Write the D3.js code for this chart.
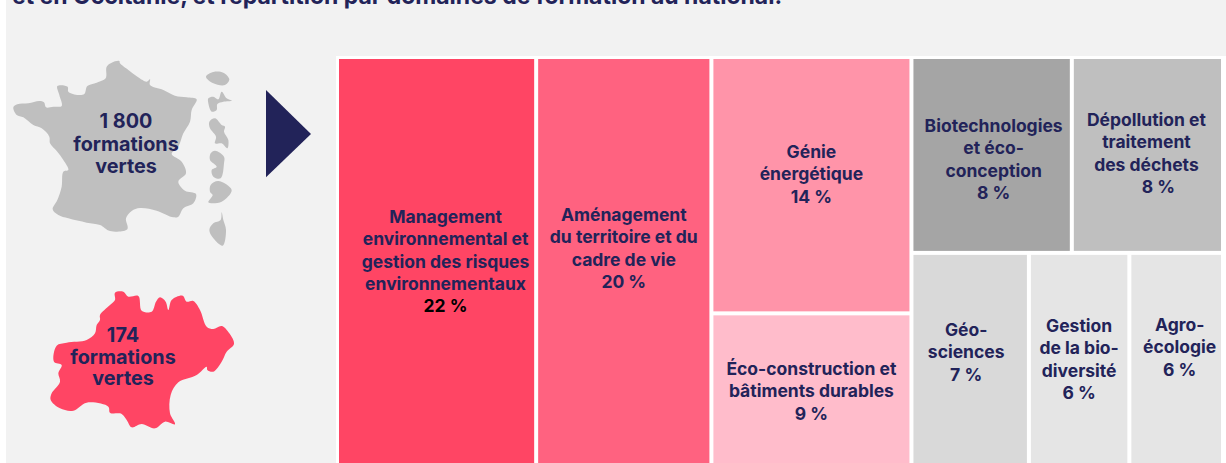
<!DOCTYPE html>
<html>
<head>
<meta charset="utf-8">
<script src="https://cdnjs.cloudflare.com/ajax/libs/d3/7.8.5/d3.min.js"></script>
<style>
  html, body { margin: 0; padding: 0; background: #fff; overflow: hidden; }
</style>
</head>
<body>
<script>
var width = 1226, height = 463;

// domains of training, in the order they are laid out
var categories = [
  ["Management", "environnemental et", "gestion des risques", "environnementaux"],
  ["Aménagement", "du territoire et du", "cadre de vie"],
  ["Génie", "énergétique"],
  ["Éco-construction et", "bâtiments durables"],
  ["Biotechnologies", "et éco-", "conception"],
  ["Dépollution et", "traitement", "des déchets"],
  ["Géo-", "sciences"],
  ["Gestion", "de la bio-", "diversité"],
  ["Agro-", "écologie"]
];
// printed percentages
var percents = ["22 %", "20 %", "14 %", "9 %", "8  %", "8 %", "7 %", "6 %", "6 %"];
// shares as the areas measure on the picture (the printed ones are rounded)
var shares = [22.5, 19.8, 14.2, 8.4, 8.7, 8.2, 6.9, 5.9, 5.5];
var colors = ["#ff4564", "#ff6280", "#ff94a9", "#ffbccb", "#a5a5a5", "#bfbfbf", "#d9d9d9", "#e5e5e5", "#e5e5e5"];
var percentColors = ["#000", "#222359", "#222359", "#222359", "#222359", "#222359", "#222359", "#222359", "#222359"];

// map totals
var franceLabel = ["1 800", "formations", "vertes"];
var occitanieLabel = ["174", "formations", "vertes"];
var title = "et en Occitanie, et répartition par domaines de formation au national.";

// map outlines (3x units)
var franceOutline = [[358,183],[335,188],[320,200],[317,235],[290,248],[262,258],[253,282],[235,285],[205,275],[203,260],[172,258],[178,285],[185,318],[160,320],[138,322],[132,307],[118,303],[85,310],[52,313],[40,322],[50,345],[70,352],[100,375],[125,385],[148,410],[150,430],[172,455],[190,480],[205,510],[190,515],[185,560],[172,600],[158,628],[175,645],[205,655],[260,668],[300,675],[330,693],[382,688],[378,655],[395,633],[420,624],[470,632],[520,652],[535,650],[550,625],[580,610],[588,582],[555,572],[535,545],[558,520],[545,485],[515,462],[535,440],[550,400],[570,365],[575,330],[590,298],[560,292],[525,287],[490,270],[450,255],[450,238],[440,245],[405,225],[385,210],[360,190]];
var islands = [
  [[618,230],[640,216],[670,218],[688,238],[675,255],[640,250]],
  [[625,295],[640,290],[655,298],[665,275],[680,295],[695,302],[670,305],[652,312],[650,330],[635,335],[625,310]],
  [[628,365],[645,355],[665,375],[675,380],[672,395],[685,420],[682,445],[665,430],[645,430],[648,410],[630,385]],
  [[632,460],[645,452],[672,470],[672,490],[662,535],[640,530],[635,510],[650,500],[630,480]],
  [[632,555],[655,543],[695,570],[665,605],[625,607],[638,585],[630,575]],
  [[665,637],[662,660],[640,670],[628,690],[640,715],[668,737],[678,690],[670,660]]
];
var occitanieOutline = [[345,878],[370,875],[385,890],[415,888],[425,932],[455,935],[468,905],[480,892],[497,905],[505,930],[515,900],[548,887],[560,905],[580,903],[600,930],[620,980],[640,987],[665,978],[688,1000],[702,1032],[680,1055],[665,1085],[640,1115],[622,1110],[620,1100],[590,1125],[535,1147],[512,1185],[510,1240],[525,1273],[495,1265],[465,1285],[425,1272],[395,1282],[380,1260],[365,1242],[330,1238],[325,1220],[260,1208],[220,1232],[180,1225],[152,1200],[155,1180],[180,1145],[175,1120],[185,1095],[162,1085],[170,1037],[200,1028],[260,1020],[285,1000],[290,975],[300,960],[300,945],[330,915],[345,900]];
var arrowShape = [[798,270],[933,402],[798,532]];

var svg = d3.select("body").append("svg")
  .attr("width", width)
  .attr("height", height)
  .style("display", "block");

// grey panel behind everything
svg.append("rect")
  .attr("x", 6).attr("y", 0)
  .attr("width", width - 6).attr("height", height)
  .attr("fill", "#f2f2f2");

svg.append("text")
  .attr("x", 12).attr("y", 4)
  .attr("font-family", "Inter, sans-serif")
  .attr("font-weight", 700)
  .attr("font-size", 23)
  .attr("fill", "#222359")
  .text(title);

// maps
var mapX = d3.scaleLinear().domain([0, 1020]).range([0, 340]);
var mapY = d3.scaleLinear().domain([0, 750]).range([0, 250]);
var outline = d3.line()
  .x(function(d) { return mapX(d[0]); })
  .y(function(d) { return mapY(d[1]); })
  .curve(d3.curveCatmullRomClosed.alpha(0.5));
var straight = d3.line()
  .x(function(d) { return mapX(d[0]); })
  .y(function(d) { return mapY(d[1]); })
  .curve(d3.curveLinearClosed);

svg.append("g").selectAll("path")
  .data([franceOutline].concat(islands))
  .enter().append("path")
  .attr("d", outline)
  .attr("fill", "#bfbfbf");

svg.append("path").datum(occitanieOutline).attr("d", outline).attr("fill", "#ff4564");
svg.append("path").datum(arrowShape).attr("d", straight).attr("fill", "#222359");

function mapLabel(lines, cx, top, gap) {
  svg.append("text")
    .attr("font-family", "Inter, sans-serif")
    .attr("font-weight", 700)
    .attr("font-size", 19.8)
    .attr("fill", "#222359")
    .attr("text-anchor", "middle")
    .selectAll("tspan")
    .data(lines)
    .enter().append("tspan")
    .attr("x", cx)
    .attr("y", function(d, i) { return top + i * gap; })
    .text(function(d) { return d; });
}
mapLabel(franceLabel, 126, 128, 22.5);
mapLabel(occitanieLabel, 123, 342, 21.7);

// treemap : columns, the last one split in two rows
function leaf(i) { return {id: i, value: shares[i]}; }
var tree = {children: [
  leaf(0),
  leaf(1),
  {children: [leaf(2), leaf(3)]},
  {children: [
    {children: [leaf(4), leaf(5)]},
    {children: [leaf(6), leaf(7), leaf(8)]}
  ]}
]};

var root = d3.hierarchy(tree).sum(function(d) { return d.value || 0; });

d3.treemap()
  .tile(d3.treemapSliceDice)
  .size([882, 404])
  .paddingInner(4)(root);

var plot = svg.append("g").attr("transform", "translate(339,59)");

// white frame around the treemap
plot.append("rect")
  .attr("x", -3).attr("y", -3)
  .attr("width", width - 339 + 3).attr("height", height - 56)
  .attr("fill", "#fff");

var cells = plot.selectAll("g.cell")
  .data(root.leaves())
  .enter().append("g")
  .attr("class", "cell");

cells.append("rect")
  .attr("x", function(d) { return d.x0; })
  .attr("y", function(d) { return d.y0; })
  .attr("width", function(d) { return d.x1 - d.x0; })
  .attr("height", function(d) { return d.y1 - d.y0; })
  .attr("fill", function(d) { return colors[d.data.id]; });

// y of the first baseline, by cell (labels are not centred the same way in each)
var labelTops = [223, 221, 158, 375, 132, 126, 336, 332, 331];
// x shift for labels that sit off the cell centre
var labelShift = [9, 0, 0, 0, 2, -1, -4, 0, 3.5];
// the percent of the "Dépollution" cell sits further right than its label
var percentShift = [0, 0, 0, 0, 0, 12, 0, 0, 0];
var lineGap = 22.3;

cells.append("text")
  .attr("text-anchor", "middle")
  .attr("font-family", "Inter, sans-serif")
  .attr("font-weight", 700)
  .attr("font-size", 17.5)
  .attr("fill", "#222359")
  .each(function(d) {
    var i = d.data.id;
    var cx = (d.x0 + d.x1) / 2 + labelShift[i];
    var top = labelTops[i] - 59;
    var t = d3.select(this);
    categories[i].forEach(function(line, k) {
      t.append("tspan").attr("x", cx).attr("y", top + k * lineGap).text(line);
    });
    t.append("tspan")
      .attr("x", cx + percentShift[i])
      .attr("y", top + categories[i].length * lineGap)
      .attr("fill", percentColors[i])
      .text(percents[i]);
  });
</script>
</body>
</html>
